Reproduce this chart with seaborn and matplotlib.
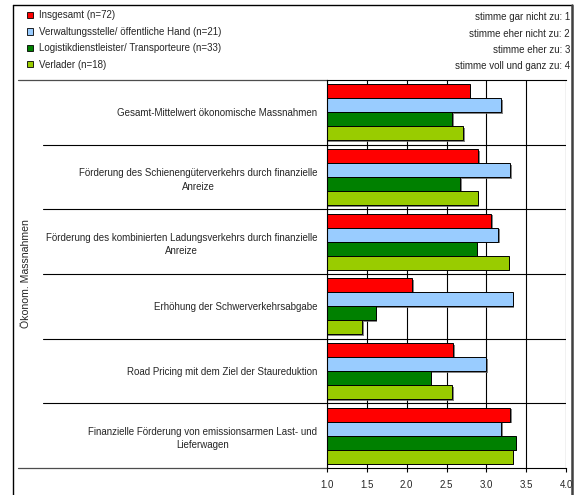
import textwrap

import matplotlib
matplotlib.use("Agg")
import matplotlib.pyplot as plt
import matplotlib.patheffects as pe
from matplotlib.lines import Line2D
from matplotlib.patches import Patch
import pandas as pd
import seaborn as sns

# ---- data -------------------------------------------------------------
massnahmen = [
    "Gesamt-Mittelwert ökonomische Massnahmen",
    "Förderung des Schienengüterverkehrs durch finanzielle Anreize",
    "Förderung des kombinierten Ladungsverkehrs durch finanzielle Anreize",
    "Erhöhung der Schwerverkehrsabgabe",
    "Road Pricing mit dem Ziel der Staureduktion",
    "Finanzielle Förderung von emissionsarmen Last- und Lieferwagen",
]
gruppen = [
    "Insgesamt (n=72)",
    "Verwaltungsstelle/ öffentliche Hand (n=21)",
    "Logistikdienstleister/ Transporteure (n=33)",
    "Verlader (n=18)",
]
insgesamt = [2.79, 2.90, 3.06, 2.07, 2.58, 3.30]
verwaltung = [3.19, 3.30, 3.15, 3.33, 3.00, 3.19]
logistik = [2.57, 2.67, 2.88, 1.61, 2.30, 3.37]
verlader = [2.71, 2.89, 3.28, 1.44, 2.57, 3.33]
skala = [
    "stimme gar nicht zu: 1",
    "stimme eher nicht zu: 2",
    "stimme eher zu: 3",
    "stimme voll und ganz zu: 4",
]
farben = ["#FF0000", "#99CCFF", "#008000", "#99CC00"]
x_ticks = [1.0, 1.5, 2.0, 2.5, 3.0, 3.5, 4.0]

# ---- long table -------------------------------------------------------
rows = []
for gruppe, werte in zip(gruppen, [insgesamt, verwaltung, logistik, verlader]):
    for m, w in zip(massnahmen, werte):
        rows.append({"Massnahme": m, "Gruppe": gruppe, "Wert": w})
df = pd.DataFrame(rows)

# ---- figure -----------------------------------------------------------
sns.set_style("white")
plt.rcParams["font.family"] = ["Liberation Sans", "DejaVu Sans"]
FS = 7

W, H = 575, 495
fig = plt.figure(figsize=(W / 100, H / 100), dpi=100)
x0, x1, y0, y1 = 327, 566, 80, 468
ax = fig.add_axes([x0 / W, 1 - y1 / H, (x1 - x0) / W, (y1 - y0) / H])

sns.barplot(
    data=df, x="Wert", y="Massnahme", hue="Gruppe",
    order=massnahmen, hue_order=gruppen, palette=farben,
    orient="h", width=0.865, saturation=1,
    edgecolor="black", linewidth=0.7, legend=False, ax=ax,
)
shadow = [pe.SimplePatchShadow(offset=(1.2, -1.2), shadow_rgbFace="0.4", alpha=0.8), pe.Normal()]
for p in ax.patches:
    p.set_path_effects(shadow)

ax.set_xlim(1, 4)
ax.set_ylim(len(massnahmen) - 0.5, -0.5)
ax.set_xticks(x_ticks)
ax.set_xticklabels([f"{t:.1f}" for t in x_ticks], fontsize=FS)
ax.xaxis.grid(True, color="black", lw=0.8)
ax.set_axisbelow(True)
ax.tick_params(axis="x", direction="out", length=3, width=0.8, pad=6, bottom=True, color="black")

ax.set_yticks(range(len(massnahmen)))
ax.set_yticklabels(
    [textwrap.fill(m, 60, break_on_hyphens=False) for m in massnahmen],
    fontsize=FS, multialignment="center", linespacing=1.45,
)
ax.tick_params(axis="y", length=0, pad=7)
ax.set_xlabel("")
ax.set_ylabel("Ökonom. Massnahmen", fontsize=7.6)
ax.yaxis.set_label_coords((31 - x0) / (x1 - x0), 0.5)

for side in ["left", "bottom", "top"]:
    ax.spines[side].set_color("black")
    ax.spines[side].set_linewidth(0.8)
ax.spines["right"].set_visible(False)

# group separators, continued into the category label area
blend = ax.get_yaxis_transform()
x_inner = (43 - x0) / (x1 - x0)
x_outer = (18 - x0) / (x1 - x0)
for b in [i + 0.5 for i in range(len(massnahmen) - 1)]:
    ax.axhline(b, color="black", lw=0.8)
    ax.plot([x_inner, 0], [b, b], transform=blend, color="black", lw=0.8, clip_on=False)
for b in [-0.5, len(massnahmen) - 0.5]:
    ax.plot([x_outer, 0], [b, b], transform=blend, color="0.3", lw=0.9, clip_on=False)

# legend
handles = [Patch(facecolor=c, edgecolor="black", linewidth=0.6) for c in farben]
fig.legend(
    handles, gruppen, loc="upper left",
    bbox_to_anchor=(27 / W, 1 - 10.5 / H), bbox_transform=fig.transFigure,
    frameon=False, fontsize=FS, borderpad=0, borderaxespad=0,
    handlelength=0.65, handleheight=0.6, handletextpad=0.6, labelspacing=0.66,
)

# answer scale
for i, s in enumerate(skala):
    fig.text(570 / W, 1 - (17.5 + 16.3 * i) / H, s, ha="right", va="center", fontsize=FS)

# outer frame
fig.add_artist(Line2D([13 / W, 13 / W], [0, 1 - 5 / H], color="black", lw=1.0))
fig.add_artist(Line2D([13 / W, 572 / W], [1 - 5 / H, 1 - 5 / H], color="black", lw=1.0))
fig.add_artist(Line2D([572 / W, 572 / W], [0, 1 - 5 / H], color="0.25", lw=1.8))

fig.savefig("out.png", dpi=100)
